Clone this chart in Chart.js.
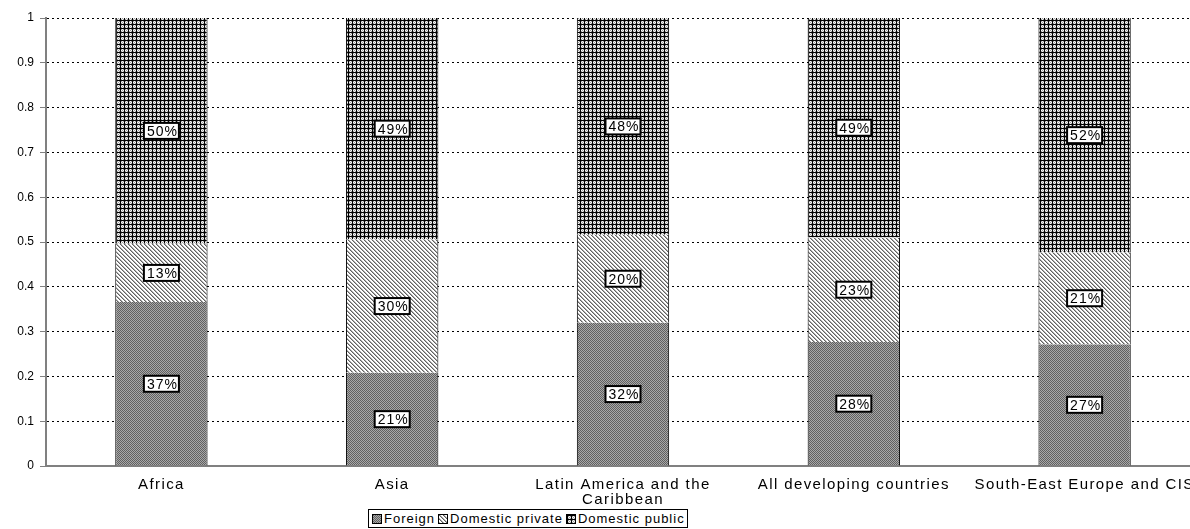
<!DOCTYPE html>
<html>
<head>
<meta charset="utf-8">
<script src="https://cdn.jsdelivr.net/npm/chart.js@4.4.0/dist/chart.umd.min.js"></script>
<style>
  body { margin: 0; background: #fff; overflow: hidden; width: 1190px; height: 529px; position: relative; font-family: "Liberation Sans", Arial, sans-serif; }
  #wrap { position: absolute; left: 0; top: 0; width: 1200px; height: 529px; }
  #legend { position: absolute; left: 368px; top: 509px; height: 17px; border: 1px solid #000; padding: 0 2px; display: flex; align-items: center; font-size: 13px; letter-spacing: 1px; white-space: nowrap; background: #fff; }
  #legend canvas { margin: 0 2px 0 1px; border: 1px solid #000; }
</style>
</head>
<body>
<div id="wrap"><canvas id="myChart"></canvas></div>
<div id="legend"></div>
<script>
// chart data
var categories = ['Africa', 'Asia', ['Latin America and the', 'Caribbean'], 'All developing countries', 'South-East Europe and CIS'];
var foreign = [0.366, 0.208, 0.32, 0.277, 0.272];
var domesticPrivate = [0.13, 0.298, 0.196, 0.233, 0.205];
var domesticPublic = [0.504, 0.494, 0.484, 0.49, 0.523];
var yTicks = [0, 0.1, 0.2, 0.3, 0.4, 0.5, 0.6, 0.7, 0.8, 0.9, 1];
var seriesNames = ['Foreign', 'Domestic private', 'Domestic public'];

// little pixel tiles used as fill patterns
function makeTile(kind) {
  var c = document.createElement('canvas');
  c.width = 4; c.height = 4;
  var g = c.getContext('2d');
  if (kind === 'foreign') {
    g.fillStyle = '#a8a8a8'; g.fillRect(0, 0, 4, 4);
    g.fillStyle = '#606060';
    for (var y = 0; y < 4; y++) for (var x = 0; x < 4; x++) if ((x + y) % 2 === 0) g.fillRect(x, y, 1, 1);
  } else if (kind === 'private') {
    g.fillStyle = '#ffffff'; g.fillRect(0, 0, 4, 4);
    for (var i = 0; i < 4; i++) {
      g.fillStyle = '#606060'; g.fillRect(i, i, 1, 1);
      g.fillStyle = '#b0b0b0'; g.fillRect((i + 1) % 4, i, 1, 1);
    }
  } else {
    g.fillStyle = '#f4f4f4'; g.fillRect(0, 0, 4, 4);
    g.fillStyle = '#a0a0a0';
    g.fillRect(1, 1, 1, 1); g.fillRect(3, 3, 1, 1); g.fillRect(2, 2, 1, 1); g.fillRect(1, 3, 1, 1); g.fillRect(3, 1, 1, 1);
    g.fillStyle = '#000000';
    g.fillRect(0, 0, 4, 1); g.fillRect(0, 0, 1, 4);
  }
  return c;
}
var ctx = document.getElementById('myChart').getContext('2d');
var patterns = ['foreign', 'private', 'public'].map(function (k) { return ctx.createPattern(makeTile(k), 'repeat'); });

// legend built as html
var legend = document.getElementById('legend');
['foreign', 'private', 'public'].forEach(function (k, i) {
  var sw = document.createElement('canvas');
  sw.width = 8; sw.height = 8;
  var sg = sw.getContext('2d');
  sg.fillStyle = sg.createPattern(makeTile(k), 'repeat');
  sg.fillRect(0, 0, 8, 8);
  legend.appendChild(sw);
  var t = document.createElement('span');
  t.textContent = seriesNames[i];
  t.style.marginRight = i < 2 ? '2px' : '0';
  legend.appendChild(t);
});

// boxed percentage labels in the middle of each segment
var boxLabels = {
  id: 'boxLabels',
  afterDatasetsDraw: function (chart) {
    var c = chart.ctx;
    c.save();
    c.font = '14px "Liberation Sans", Arial, sans-serif';
    c.letterSpacing = '1px';
    c.textAlign = 'center';
    c.textBaseline = 'middle';
    chart.data.datasets.forEach(function (ds, i) {
      chart.getDatasetMeta(i).data.forEach(function (bar, j) {
        var txt = Math.round(ds.data[j] * 100) + '%';
        var cy = (bar.y + bar.base) / 2;
        var w = c.measureText(txt).width + 4;
        var h = 16;
        c.fillStyle = '#fff';
        c.fillRect(bar.x - w / 2, cy - h / 2, w, h);
        c.lineWidth = 2;
        c.strokeStyle = '#000';
        c.strokeRect(bar.x - w / 2, cy - h / 2, w, h);
        c.fillStyle = '#000';
        c.fillText(txt, bar.x + 1, cy + 1);
      });
    });
    c.restore();
  }
};

var chart = new Chart(ctx, {
  type: 'bar',
  data: {
    labels: categories,
    datasets: [
      { label: seriesNames[0], data: foreign, backgroundColor: patterns[0] },
      { label: seriesNames[1], data: domesticPrivate, backgroundColor: patterns[1] },
      { label: seriesNames[2], data: domesticPublic, backgroundColor: patterns[2] }
    ]
  },
  options: {
    responsive: true,
    maintainAspectRatio: false,
    animation: false,
    layout: { padding: { top: 18, right: 0, left: 0, bottom: 0 } },
    datasets: {
      bar: { categoryPercentage: 1, barPercentage: 0.4, borderColor: '#000', borderWidth: { left: 1, right: 1, top: 0, bottom: 0 }, borderSkipped: false }
    },
    plugins: { legend: { display: false }, tooltip: { enabled: false } },
    scales: {
      x: {
        stacked: true,
        grid: { display: false },
        border: { display: true, color: '#808080', width: 2 },
        ticks: { color: '#000', font: { family: '"Liberation Sans", Arial, sans-serif', size: 15, lineHeight: 0.95 }, maxRotation: 0, autoSkip: false, padding: 4 },
        afterFit: function (scale) { scale.height = 63; },
        // wider letter spacing only for the category labels
        afterUpdate: function (scale) {
          var base = Object.getPrototypeOf(scale).draw;
          scale.draw = function (area) {
            scale.ctx.save();
            scale.ctx.letterSpacing = '1.4px';
            base.call(scale, area);
            scale.ctx.restore();
          };
        }
      },
      y: {
        stacked: true,
        min: 0,
        max: 1,
        afterBuildTicks: function (scale) { scale.ticks = yTicks.map(function (v) { return { value: v }; }); },
        grid: { color: '#000', tickColor: '#808080', tickLength: 6, drawTicks: true },
        border: { display: true, color: '#808080', width: 2, dash: [2, 3] },
        ticks: {
          color: '#000',
          font: { family: '"Liberation Sans", Arial, sans-serif', size: 12 },
          padding: 6,
          callback: function (v) { return String(Math.round(v * 10) / 10); }
        },
        afterFit: function (scale) { scale.width = 46; }
      }
    }
  },
  plugins: [boxLabels]
});
</script>
</body>
</html>
